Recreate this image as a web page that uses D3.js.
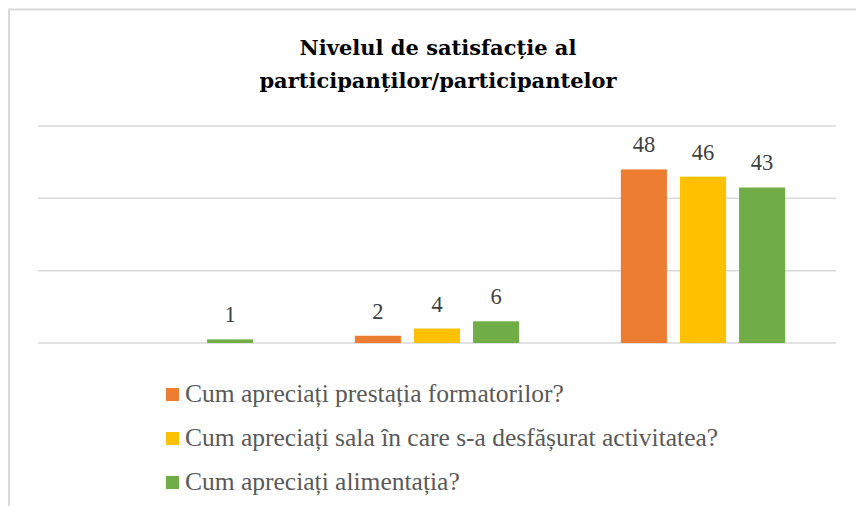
<!DOCTYPE html>
<html>
<head>
<meta charset="utf-8">
<title>Nivelul de satisfacție al participanților/participantelor</title>
<script src="https://cdn.jsdelivr.net/npm/d3@7"></script>
</head>
<body style="margin:0; background:#fff;">
<div id="chart"></div>
<script>
var categories = ["Categoria 1", "Categoria 2", "Categoria 3"],
    seriesNames = ["Cum apreciați prestația formatorilor?",
                   "Cum apreciați sala în care s-a desfășurat activitatea?",
                   "Cum apreciați alimentația?"],
    formatori = [null, 2, 48],
    sala = [null, 4, 46],
    alimentatie = [1, 6, 43],
    colors = ["#ED7D31", "#FFC000", "#70AD47"],
    gridTicks = [0, 20, 40, 60];

var seriesValues = [formatori, sala, alimentatie];

var width = 856, height = 506,
    plot = {left: 38, right: 836, top: 126, bottom: 343};

var svg = d3.select("#chart").append("svg")
    .attr("width", width)
    .attr("height", height);

// chart frame (runs off the right and bottom of the window)
svg.append("rect")
    .attr("x", 9).attr("y", 9.5)
    .attr("width", 900).attr("height", 600)
    .attr("fill", "#fff")
    .attr("stroke", "#d9d9d9")
    .attr("stroke-width", 2);

var titleLines = ["Nivelul de satisfacție al", "participanților/participantelor"];
svg.append("g").selectAll("text")
    .data(titleLines)
    .enter().append("text")
    .attr("x", 438)
    .attr("y", function(d, i){ return 55 + i * 33; })
    .attr("font-family", "DejaVu Serif")
    .attr("font-weight", "bold")
    .attr("font-size", 21)
    .attr("fill", "#000")
    .attr("text-anchor", "middle")
    .text(function(d){ return d; });

var y = d3.scaleLinear().domain([0, 60]).range([plot.bottom, plot.top]);

var x0 = d3.scaleBand().domain(categories).range([plot.left, plot.right]);

var x1 = d3.scaleBand().domain(d3.range(seriesNames.length))
    .range([0, x0.bandwidth()])
    .paddingInner(0.22)
    .paddingOuter(0.86);

svg.append("g").selectAll("line")
    .data(gridTicks)
    .enter().append("line")
    .attr("x1", plot.left).attr("x2", plot.right)
    .attr("y1", function(d){ return y(d); })
    .attr("y2", function(d){ return y(d); })
    .attr("stroke", "#d9d9d9")
    .attr("stroke-width", 1.5);

var cells = [];
categories.forEach(function(c, ci){
    seriesValues.forEach(function(vals, si){
        if (vals[ci] != null) cells.push({cat: c, s: si, v: vals[ci]});
    });
});

svg.append("g").selectAll("rect")
    .data(cells)
    .enter().append("rect")
    .attr("x", function(d){ return x0(d.cat) + x1(d.s); })
    .attr("y", function(d){ return y(d.v); })
    .attr("width", x1.bandwidth())
    .attr("height", function(d){ return y(0) - y(d.v); })
    .attr("fill", function(d){ return colors[d.s]; });

svg.append("g").selectAll("text")
    .data(cells)
    .enter().append("text")
    .attr("x", function(d){ return x0(d.cat) + x1(d.s) + x1.bandwidth() / 2; })
    .attr("y", function(d){ return y(d.v) - 17; })
    .attr("font-family", "Liberation Serif")
    .attr("font-size", 22.5)
    .attr("fill", "#404040")
    .attr("text-anchor", "middle")
    .text(function(d){ return d.v; });

var legend = svg.append("g").selectAll("g")
    .data(seriesNames)
    .enter().append("g")
    .attr("transform", function(d, i){ return "translate(166," + (388 + i * 44) + ")"; });

legend.append("rect")
    .attr("width", 13).attr("height", 13)
    .attr("fill", function(d, i){ return colors[i]; });

legend.append("text")
    .attr("x", 19).attr("y", 14)
    .attr("font-family", "Liberation Serif")
    .attr("font-size", 25.5)
    .attr("fill", "#595959")
    .text(function(d){ return d; });
</script>
</body>
</html>
